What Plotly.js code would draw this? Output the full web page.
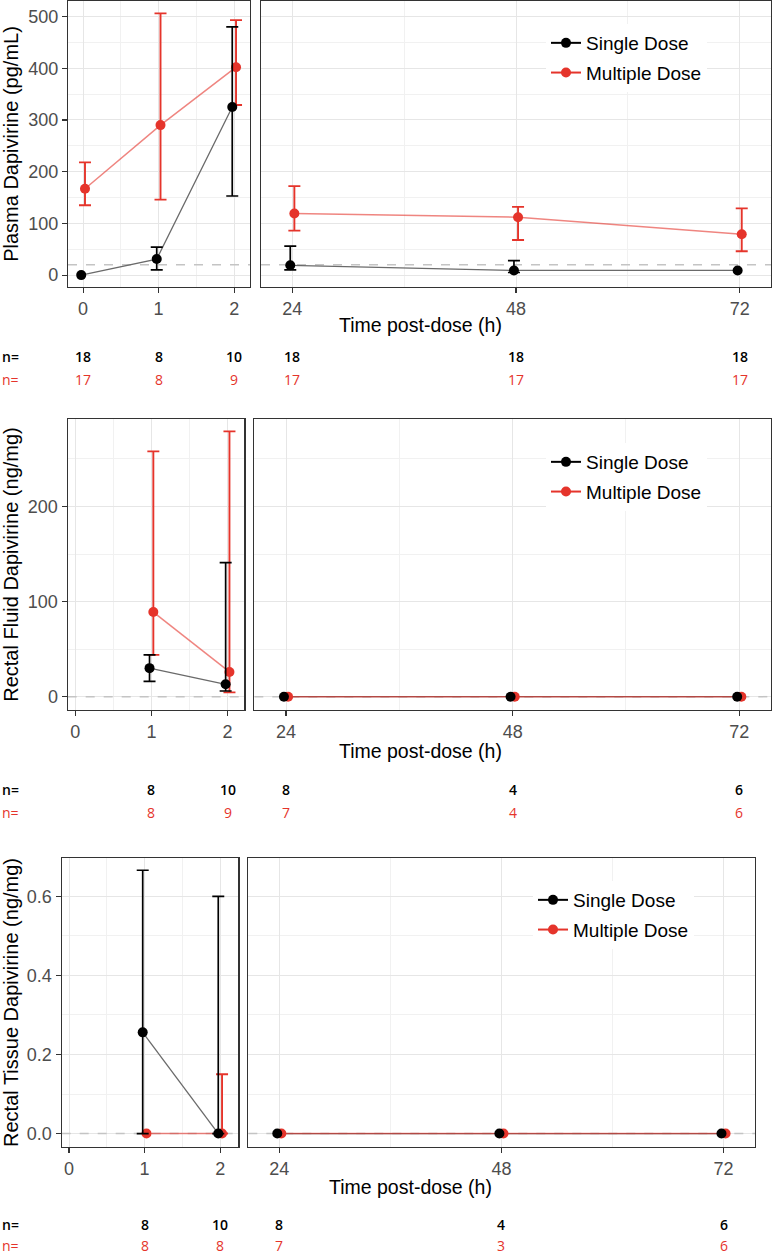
<!DOCTYPE html>
<html><head><meta charset="utf-8">
<script src="https://cdn.plot.ly/plotly-3.0.1.min.js"></script>
<style>html,body{margin:0;padding:0;background:#fff}#chart{width:777px;height:1255px}</style>
</head><body><div id="chart"></div>
<script>
// ---------------- data ----------------
const seriesNames = ['Single Dose', 'Multiple Dose'];
const xTitle = 'Time post-dose (h)';
const yTitles = ['Plasma Dapivirine (pg/mL)', 'Rectal Fluid Dapivirine (ng/mg)', 'Rectal Tissue Dapivirine (ng/mg)'];
const earlyTicks = [0, 1, 2];
const lateTicks = [24, 48, 72];

// Plasma (pg/mL)
const plasmaTimes       = [0, 1, 2, 24, 48, 72];
const plasmaSingleMean  = [0, 31, 325, 19, 9, 9];
const plasmaSingleUpper = [null, 54, 480, 56, 28, null];
const plasmaSingleLower = [null, 10, 153, 10, 5, null];
const plasmaMultiMean   = [167, 290, 402, 119, 112, 79];
const plasmaMultiUpper  = [218, 506, 493, 172, 132, 129];
const plasmaMultiLower  = [135, 146, 329, 86, 68, 46];
const plasmaNSingle     = [18, 8, 10, 18, 18, 18];
const plasmaNMulti      = [17, 8, 9, 17, 17, 17];
const plasmaLLOQ = 20;

// Rectal fluid (ng/mg)
const fluidTimes       = [1, 2, 24, 48, 72];
const fluidSingleMean  = [30, 13, 0, 0, 0];
const fluidSingleUpper = [44, 141, null, null, null];
const fluidSingleLower = [16, 6, null, null, null];
const fluidMultiMean   = [89, 26, 0, 0, 0];
const fluidMultiUpper  = [258, 279, null, null, null];
const fluidMultiLower  = [44, 4.5, null, null, null];
const fluidNSingle     = [8, 10, 8, 4, 6];
const fluidNMulti      = [8, 9, 7, 4, 6];
const fluidLLOQ = 0;

// Rectal tissue (ng/mg)
const tissueTimes       = [1, 2, 24, 48, 72];
const tissueSingleMean  = [0.256, 0, 0, 0, 0];
const tissueSingleUpper = [0.666, 0.6, null, null, null];
const tissueSingleLower = [0, 0, null, null, null];
const tissueMultiMean   = [0, 0, 0, 0, 0];
const tissueMultiUpper  = [null, 0.15, null, null, null];
const tissueMultiLower  = [null, 0, null, null, null];
const tissueNSingle     = [8, 10, 8, 4, 6];
const tissueNMulti      = [8, 8, 7, 3, 6];
const tissueLLOQ = 0;

// ---------------- style / layout ----------------
const W = 777, H = 1255;
const BLACK = '#000000', RED = '#e5342b';
const LINE_BLACK = '#6a6a6a', LINE_RED = 'rgba(229,52,43,0.6)';
const FONT = 'Liberation Sans, Arial, Helvetica, sans-serif';
const NFONT = 'Open Sans, Noto Sans, sans-serif';
const px = v => v / W, py = v => 1 - v / H;

const panels = [
  { t: plasmaTimes, sm: plasmaSingleMean, su: plasmaSingleUpper, sl: plasmaSingleLower,
    mm: plasmaMultiMean, mu: plasmaMultiUpper, ml: plasmaMultiLower,
    ns: plasmaNSingle, nm: plasmaNMulti, lloq: plasmaLLOQ, title: yTitles[0],
    L: { x: [68, 250], y: [1, 287], xr: [-0.2, 2.21] },
    R: { x: [261, 771], y: [1, 287], xr: [20.64, 75.36] },
    yr: [-23, 530], dtick: 100, minor: 50, fmt: '',
    xt: [420, 325], nY: 356, nGap: 23, legend: [546, 24] },
  { t: fluidTimes, sm: fluidSingleMean, su: fluidSingleUpper, sl: fluidSingleLower,
    mm: fluidMultiMean, mu: fluidMultiUpper, ml: fluidMultiLower,
    ns: fluidNSingle, nm: fluidNMulti, lloq: fluidLLOQ, title: yTitles[1],
    L: { x: [67.7, 244.3], y: [419, 710], xr: [-0.1, 2.22] },
    R: { x: [254.3, 771], y: [419, 710], xr: [20.64, 75.36] },
    yr: [-14, 292], dtick: 100, minor: 50, fmt: '',
    xt: [420, 751], nY: 789, nGap: 23, legend: [546, 443] },
  { t: tissueTimes, sm: tissueSingleMean, su: tissueSingleUpper, sl: tissueSingleLower,
    mm: tissueMultiMean, mu: tissueMultiUpper, ml: tissueMultiLower,
    ns: tissueNSingle, nm: tissueNMulti, lloq: tissueLLOQ, title: yTitles[2],
    L: { x: [61.7, 238.3], y: [858, 1147], xr: [-0.097, 2.24] },
    R: { x: [248.3, 755], y: [858, 1147], xr: [20.65, 75.4] },
    yr: [-0.034, 0.697], dtick: 0.2, minor: 0.1, fmt: '.1f',
    xt: [410, 1187], nY: 1224, nGap: 21, legend: [533, 881] }
];

const DODGE_EARLY = 0.025, DODGE_LATE = 0.22;
const traces = [], annotations = [];
const layout = {
  width: W, height: H, margin: { l: 0, r: 0, t: 0, b: 0 },
  paper_bgcolor: '#fff', plot_bgcolor: '#fff', showlegend: true,
  font: { family: FONT, color: '#000' }, annotations
};

const gridMajor = '#e6e6e6', gridMinor = '#f1f1f1';
function xAxis(dom, range, early, anchor) {
  return {
    domain: [px(dom[0]), px(dom[1])], range, anchor,
    tickvals: early ? earlyTicks : lateTicks,
    ticks: 'outside', ticklen: 5, tickwidth: 1.2, tickcolor: '#333',
    tickfont: { family: FONT, size: 18, color: '#4d4d4d' }, ticklabelstandoff: 0,
    showline: true, mirror: true, linecolor: '#333', linewidth: 1.2,
    showgrid: true, gridcolor: gridMajor, gridwidth: 1, zeroline: false,
    minor: { tick0: 0, dtick: early ? 0.5 : 12, showgrid: true, gridcolor: gridMinor, gridwidth: 1, ticks: '' },
    fixedrange: true
  };
}
function yAxis(dom, p, left, anchor) {
  const ax = {
    domain: [py(dom[1]), py(dom[0])], range: p.yr, anchor,
    tick0: 0, dtick: p.dtick, tickformat: p.fmt,
    showline: true, mirror: true, linecolor: '#333', linewidth: 1.2,
    showgrid: true, gridcolor: gridMajor, gridwidth: 1, zeroline: false,
    minor: { tick0: 0, dtick: p.minor, showgrid: true, gridcolor: gridMinor, gridwidth: 1, ticks: '' },
    fixedrange: true
  };
  if (left) {
    Object.assign(ax, {
      ticks: 'outside', ticklen: 5, tickwidth: 1.2, tickcolor: '#333',
      tickfont: { family: FONT, size: 18, color: '#4d4d4d' },
      title: { text: p.title, font: { family: FONT, size: 20, color: '#000' }, standoff: 6 }
    });
  } else {
    Object.assign(ax, { ticks: '', showticklabels: false });
  }
  return ax;
}

function errs(mean, up, lo) {
  return {
    plus: mean.map((m, i) => up[i] == null ? NaN : up[i] - m),
    minus: mean.map((m, i) => lo[i] == null ? NaN : m - lo[i])
  };
}

panels.forEach((p, k) => {
  const nL = 2 * k + 1, nR = 2 * k + 2;
  const xL = nL === 1 ? 'x' : 'x' + nL, yL = nL === 1 ? 'y' : 'y' + nL;
  const xR = 'x' + nR, yR = 'y' + nR;
  const kL = nL === 1 ? '' : String(nL);
  layout['xaxis' + kL] = xAxis(p.L.x, p.L.xr, true, yL);
  layout['yaxis' + kL] = yAxis(p.L.y, p, true, xL);
  layout['xaxis' + nR] = xAxis(p.R.x, p.R.xr, false, yR);
  layout['yaxis' + nR] = yAxis(p.R.y, p, false, xR);

  const legendId = k === 0 ? 'legend' : 'legend' + (k + 1);
  layout[legendId] = {
    x: px(p.legend[0]), y: py(p.legend[1]), xanchor: 'left', yanchor: 'top',
    bgcolor: '#ffffff', borderwidth: 0, font: { family: FONT, size: 19, color: '#000' },
    tracegroupgap: 2, itemwidth: 30, traceorder: 'grouped'
  };

  const es = errs(p.sm, p.su, p.sl), em = errs(p.mm, p.mu, p.ml);
  [[xL, yL, true], [xR, yR, false]].forEach(([xa, ya, early]) => {
    const idx = p.t.map((t, i) => i).filter(i => early ? p.t[i] <= 2 : p.t[i] >= 24);
    const d = early ? DODGE_EARLY : DODGE_LATE;
    const pick = arr => idx.map(i => arr[i]);
    const xs = idx.map(i => p.t[i] - d), xm = idx.map(i => p.t[i] + d);
    // LLOQ reference line across the panel
    traces.push({ x: early ? p.L.xr : p.R.xr, y: [p.lloq, p.lloq], xaxis: xa, yaxis: ya,
      mode: 'lines', showlegend: false, hoverinfo: 'skip',
      line: { color: '#c4c4c4', width: 1.5, dash: 'dash' } });
    traces.push({ x: xs, y: pick(p.sm), xaxis: xa, yaxis: ya, mode: 'lines', showlegend: false,
      line: { color: LINE_BLACK, width: 1.3 }, hoverinfo: 'skip' });
    traces.push({ x: xm, y: pick(p.mm), xaxis: xa, yaxis: ya, mode: 'lines', showlegend: false,
      line: { color: LINE_RED, width: 1.5 }, hoverinfo: 'skip' });
    traces.push({ x: xm, y: pick(p.mm), xaxis: xa, yaxis: ya, mode: 'markers', showlegend: false,
      name: seriesNames[1], marker: { color: RED, size: 10 },
      error_y: { type: 'data', symmetric: false, array: pick(em.plus), arrayminus: pick(em.minus),
        color: RED, thickness: 1.9, width: 6 } });
    traces.push({ x: xs, y: pick(p.sm), xaxis: xa, yaxis: ya, mode: 'markers', showlegend: false,
      name: seriesNames[0], marker: { color: BLACK, size: 10 },
      error_y: { type: 'data', symmetric: false, array: pick(es.plus), arrayminus: pick(es.minus),
        color: BLACK, thickness: 1.7, width: 6 } });
  });
  // legend entries
  [[seriesNames[0], BLACK], [seriesNames[1], RED]].forEach(([nm, c], j) => {
    traces.push({ x: [null], y: [null], xaxis: xR, yaxis: yR, mode: 'lines+markers', name: nm,
      legend: legendId, legendgroup: 'g' + k + j, showlegend: true,
      line: { color: c, width: 2 }, marker: { color: c, size: 10 } });
  });

  // x title
  annotations.push({ xref: 'paper', yref: 'paper', x: px(p.xt[0]), y: py(p.xt[1]), xanchor: 'center', yanchor: 'middle',
    text: xTitle, showarrow: false, font: { family: FONT, size: 19.5, color: '#000' } });
  // n rows
  [[p.ns, BLACK, 0, 600], [p.nm, RED, p.nGap, 400]].forEach(([arr, c, dy, wt]) => {
    annotations.push({ xref: 'paper', yref: 'paper', x: 0, y: py(p.nY + dy), xanchor: 'left', yanchor: 'middle',
      text: 'n=', showarrow: false, font: { family: NFONT, size: 14, color: c, weight: wt } });
    arr.forEach((n, i) => {
      const t = p.t[i];
      annotations.push({ xref: t <= 2 ? xL : xR, yref: 'paper', x: t, y: py(p.nY + dy),
        xanchor: 'center', yanchor: 'middle', text: String(n), showarrow: false,
        font: { family: NFONT, size: 14, color: c, weight: wt } });
    });
  });
});

Plotly.newPlot('chart', traces, layout, { staticPlot: true, displayModeBar: false });
</script></body></html>
